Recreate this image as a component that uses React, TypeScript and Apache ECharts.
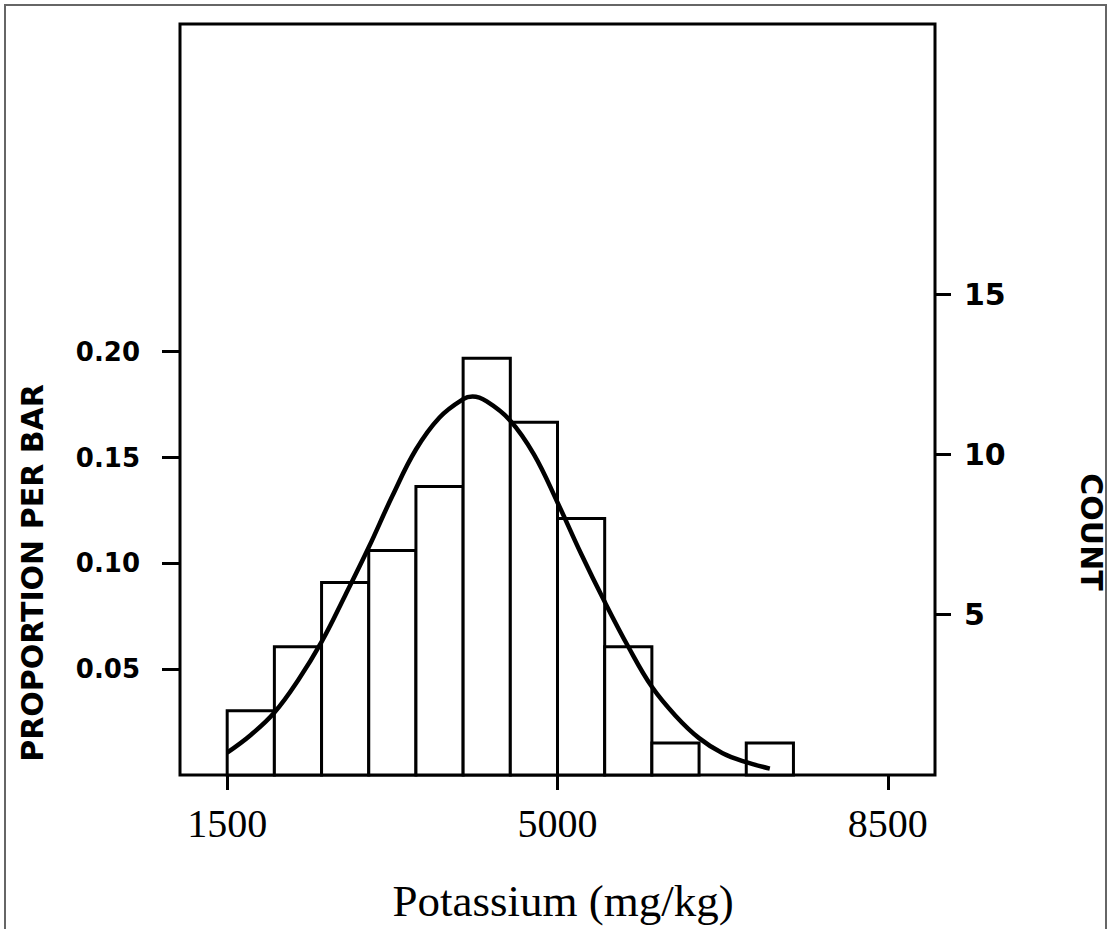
import React, { useEffect, useRef } from "react";
import * as echarts from "echarts";

// Histogram bins (Potassium, mg/kg) and counts per bin
const binEdges = [1500, 2000, 2500, 3000, 3500, 4000, 4500, 5000, 5500, 6000, 6500, 7000, 7500];
const binCounts = [2, 4, 6, 7, 9, 13, 11, 8, 4, 1, 0, 1];
const totalCount = 66;

// Fitted curve (x in mg/kg, y in counts)
const curveX = [1500, 1750, 2000, 2250, 2500, 2750, 3000, 3250, 3500, 3750, 4000, 4100, 4250, 4500, 4750, 5000, 5250, 5500, 5750, 6000, 6250, 6500, 6750, 7000, 7250];
const curveY = [0.7, 1.25, 1.95, 2.95, 4.15, 5.6, 7.1, 8.7, 10.15, 11.15, 11.72, 11.8, 11.65, 11.05, 10.0, 8.5, 6.9, 5.4, 4.0, 2.75, 1.85, 1.15, 0.68, 0.4, 0.2];

// Tick labels
const xTicks = [1500, 5000, 8500];
const propTicks = [0.05, 0.1, 0.15, 0.2];
const countTicks = [5, 10, 15];

const countMax = 23.42;

export default function App() {
  const ref = useRef<HTMLDivElement>(null);
  useEffect(() => {
    document.body.style.margin = "0";
    const chart = echarts.init(ref.current!, null, { renderer: "svg" });
    const bars = binCounts
      .map((c, i) => [binEdges[i], binEdges[i + 1], c])
      .filter((d) => d[2] > 0);
    const sans = "DejaVu Sans";
    const serif = "Liberation Serif";
    chart.setOption({
      animation: false,
      backgroundColor: "#fff",
      grid: {
        left: 180,
        right: 176,
        top: 24,
        bottom: 154,
        show: true,
        borderColor: "#000",
        borderWidth: 3,
        backgroundColor: "transparent",
      },
      xAxis: {
        type: "value",
        min: 1000,
        max: 9000,
        axisLine: { show: false },
        splitLine: { show: false },
        axisTick: { show: true, customValues: xTicks, length: 15, lineStyle: { color: "#000", width: 3 } },
        axisLabel: {
          customValues: xTicks,
          margin: 28,
          color: "#000",
          fontFamily: serif,
          fontSize: 40,
          formatter: (v: number) => String(v),
        },
      },
      yAxis: [
        {
          type: "value",
          min: 0,
          max: countMax / totalCount,
          position: "left",
          axisLine: { show: false },
          splitLine: { show: false },
          axisTick: { show: true, customValues: propTicks, length: 18, lineStyle: { color: "#000", width: 3 } },
          axisLabel: {
            customValues: propTicks,
            margin: 40,
            color: "#000",
            fontFamily: sans,
            fontWeight: "bold",
            fontSize: 26,
            formatter: (v: number) => v.toFixed(2),
          },
        },
        {
          type: "value",
          min: 0,
          max: countMax,
          position: "right",
          axisLine: { show: false },
          splitLine: { show: false },
          axisTick: { show: true, customValues: countTicks, length: 16, lineStyle: { color: "#000", width: 3 } },
          axisLabel: {
            customValues: countTicks,
            margin: 29,
            color: "#000",
            fontFamily: sans,
            fontWeight: "bold",
            fontSize: 30,
          },
        },
      ],
      series: [
        {
          type: "custom",
          xAxisIndex: 0,
          yAxisIndex: 1,
          data: bars,
          encode: { x: [0, 1], y: 2 },
          renderItem: (params: any, api: any) => {
            const p0 = api.coord([api.value(0), api.value(2)]);
            const p1 = api.coord([api.value(1), 0]);
            return {
              type: "rect",
              shape: { x: p0[0], y: p0[1], width: p1[0] - p0[0], height: p1[1] - p0[1] },
              style: { fill: "#fff", stroke: "#000", lineWidth: 3 },
            };
          },
          z: 2,
        },
        {
          type: "line",
          xAxisIndex: 0,
          yAxisIndex: 1,
          data: curveX.map((x, i) => [x, curveY[i]]),
          smooth: 0.4,
          showSymbol: false,
          symbol: "none",
          lineStyle: { color: "#000", width: 4.5 },
          z: 3,
        },
      ],
      graphic: [
        {
          type: "rect",
          shape: { x: 5, y: 5, width: 1101, height: 960 },
          style: { fill: "none", stroke: "#666", lineWidth: 2 },
          silent: true,
          z: -1,
        },
        {
          type: "text",
          x: 32,
          y: 573,
          rotation: Math.PI / 2,
          style: {
            text: "PROPORTION PER BAR",
            font: `bold 30px "${sans}"`,
            fill: "#000",
            textAlign: "center",
            textVerticalAlign: "middle",
            align: "center",
            verticalAlign: "middle",
          },
        },
        {
          type: "text",
          x: 1091,
          y: 532,
          rotation: -Math.PI / 2,
          style: {
            text: "COUNT",
            font: `bold 30px "${sans}"`,
            fill: "#000",
            textAlign: "center",
            textVerticalAlign: "middle",
            align: "center",
            verticalAlign: "middle",
          },
        },
        {
          type: "text",
          x: 563,
          y: 901,
          style: {
            text: "Potassium (mg/kg)",
            font: `45px "${serif}"`,
            fill: "#000",
            textAlign: "center",
            textVerticalAlign: "middle",
            align: "center",
            verticalAlign: "middle",
          },
        },
      ],
    });
    return () => chart.dispose();
  }, []);
  return <div ref={ref} style={{ width: 1111, height: 929 }} />;
}
